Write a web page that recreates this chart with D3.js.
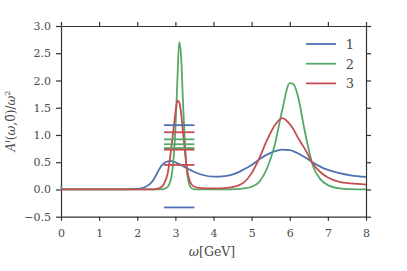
<!DOCTYPE html>
<meta charset="utf-8">
<style>
body { margin: 0; background: #fff; }
text { font-family: "DejaVu Serif", "Liberation Serif", serif; fill: #4a4a4a; }
.axis path, .axis line { stroke: #333; stroke-width: 1.2; }
</style>
<svg width="407" height="271"></svg>
<script src="https://d3js.org/d3.v7.min.js"></script>
<script>

// energy grid (GeV)
var omega = [0, 0.03, 0.08, 0.5, 1.0, 1.5, 2.0, 2.2, 2.4, 2.5, 2.6, 2.7, 2.8, 2.9, 2.95,
  3.0, 3.05, 3.1, 3.15, 3.2, 3.25, 3.3, 3.4, 3.5, 3.7, 4.0, 4.3, 4.6, 4.8, 5.0,
  5.2, 5.4, 5.6, 5.8, 6.0, 6.1, 6.2, 6.4, 6.6, 6.8, 7.0, 7.3, 7.6, 8.0];

var series1 = [0.06, 0.01, 0, 0, 0, 0, 0.01, 0.04, 0.15, 0.27, 0.4, 0.48, 0.515, 0.52, 0.51,
  0.50, 0.48, 0.465, 0.45, 0.43, 0.41, 0.39, 0.355, 0.32, 0.27, 0.235, 0.245, 0.3, 0.37, 0.45,
  0.55, 0.64, 0.7, 0.73, 0.72, 0.7, 0.67, 0.59, 0.5, 0.42, 0.36, 0.3, 0.26, 0.23];

var series2 = [0, 0, 0, 0, 0, 0, 0, 0, 0, 0, 0, 0.01, 0.05, 0.25, 0.55,
  1.1, 1.95, 2.71, 2.45, 1.6, 0.85, 0.35, 0.04, 0, 0, 0, 0, 0.005, 0.02, 0.05,
  0.14, 0.38, 0.8, 1.45, 1.95, 1.93, 1.75, 1.05, 0.45, 0.19, 0.08, 0.02, 0.005, 0];

var series3 = [0, 0, 0, 0, 0, 0, 0, 0, 0, 0.01, 0.03, 0.1, 0.3, 0.8, 1.1,
  1.4, 1.63, 1.6, 1.4, 1.05, 0.7, 0.4, 0.12, 0.05, 0.025, 0.02, 0.025, 0.06, 0.13, 0.3,
  0.57, 0.9, 1.17, 1.31, 1.2, 1.1, 0.97, 0.74, 0.48, 0.32, 0.22, 0.14, 0.11, 0.09];

// horizontal markers
var markX = [2.7, 3.5];
var marks1 = [1.18, -0.33];
var marks2 = [0.92, 0.83, 0.76];
var marks3 = [1.05, 0.73, 0.45];

var names = ["1", "2", "3"];
var colors = ["#4c72b0", "#55a868", "#c44e52"];
var xTicks = [0, 1, 2, 3, 4, 5, 6, 7, 8];
var yTicks = [-0.5, 0, 0.5, 1.0, 1.5, 2.0, 2.5, 3.0];

var svg = d3.select("svg");

var x = d3.scaleLinear().domain([0, 8]).range([61, 366]);
var y = d3.scaleLinear().domain([-0.5, 3]).range([216.7, 26]);

var fmt = function(d) { return d3.format(".1f")(d).replace("-", "\u2212"); };

svg.append("g").attr("class", "axis")
    .attr("transform", "translate(0," + y(-0.5) + ")")
    .call(d3.axisBottom(x).tickValues(xTicks).tickSize(4).tickSizeOuter(0).tickPadding(9).tickFormat(d3.format("d")));
svg.append("g").attr("class", "axis")
    .attr("transform", "translate(0," + y(3) + ")")
    .call(d3.axisTop(x).tickValues(xTicks).tickSize(4).tickSizeOuter(0).tickFormat(""));
svg.append("g").attr("class", "axis")
    .attr("transform", "translate(" + x(0) + ",0)")
    .call(d3.axisLeft(y).tickValues(yTicks).tickSize(5).tickSizeOuter(0).tickPadding(5).tickFormat(fmt));
svg.append("g").attr("class", "axis")
    .attr("transform", "translate(" + x(8) + ",0)")
    .call(d3.axisRight(y).tickValues(yTicks).tickSize(5).tickSizeOuter(0).tickFormat(""));

svg.selectAll(".axis").attr("font-family", null);
svg.selectAll(".axis text").style("font-size", "11px").attr("fill", "#4a4a4a");

var line = d3.line()
    .x(function(d) { return x(d[0]); })
    .y(function(d) { return y(d[1]); })
    .curve(d3.curveMonotoneX);

var all = [series1, series2, series3];
all.forEach(function(s, i) {
  svg.append("path")
      .datum(d3.zip(omega, s))
      .attr("fill", "none")
      .attr("stroke", colors[i])
      .attr("stroke-width", 1.8)
      .attr("d", line);
});

[marks1, marks2, marks3].forEach(function(m, i) {
  svg.selectAll(null)
    .data(m)
    .enter().append("line")
      .attr("x1", x(markX[0]))
      .attr("x2", x(markX[1]))
      .attr("y1", function(d) { return y(d); })
      .attr("y2", function(d) { return y(d); })
      .attr("stroke", colors[i])
      .attr("stroke-width", 1.8);
});

// legend
var legend = svg.append("g");
names.forEach(function(n, i) {
  var ly = 44 + i * 19.7;
  legend.append("line")
      .attr("x1", 306).attr("x2", 336)
      .attr("y1", ly).attr("y2", ly)
      .attr("stroke", colors[i]).attr("stroke-width", 1.8);
  legend.append("text")
      .attr("x", 350).attr("y", ly + 5)
      .attr("text-anchor", "middle")
      .style("font-size", "13px")
      .text(n);
});

// axis labels
svg.append("text")
    .attr("x", 212).attr("y", 256)
    .attr("text-anchor", "middle")
    .style("font-size", "12.5px")
    .html('<tspan font-style="italic">ω</tspan>[GeV]');

svg.append("text")
    .attr("transform", "translate(15,121) rotate(-90)")
    .attr("text-anchor", "middle")
    .style("font-size", "12px")
    .html('<tspan font-style="italic">A</tspan><tspan font-style="italic" font-size="8px" dy="-5">i</tspan>' +
          '<tspan dy="5">(</tspan><tspan font-style="italic">ω</tspan>,0\u0304)/<tspan font-style="italic">ω</tspan>' +
          '<tspan font-size="8px" dy="-5">2</tspan>');

</script>
